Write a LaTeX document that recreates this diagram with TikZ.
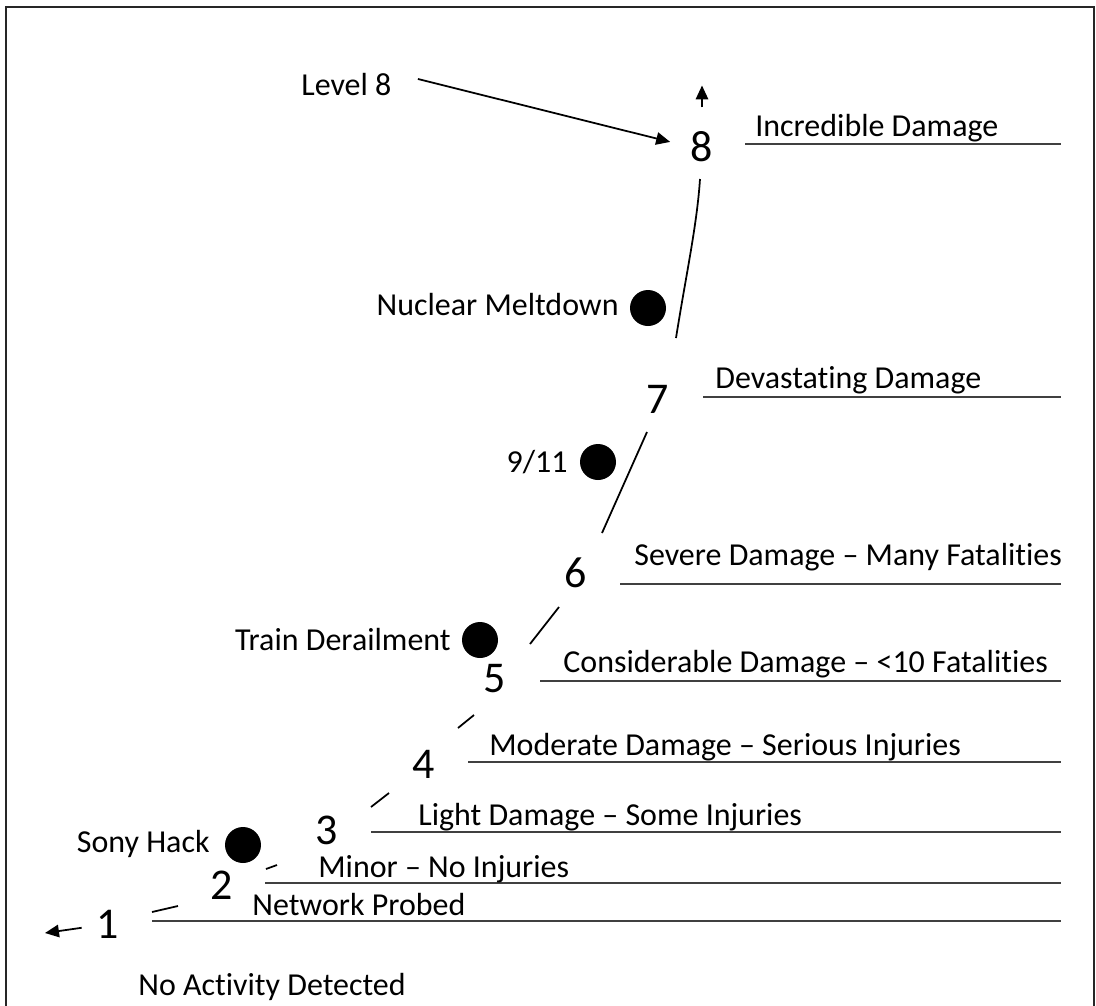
\documentclass[tikz,border=0pt]{standalone}
\usepackage{fontspec}
\setmainfont{Carlito}[Ligatures=NoCommon]
\usetikzlibrary{arrows.meta}

\begin{document}
\begin{tikzpicture}[
        x=0.02cm, y=-0.02cm,
        level/.style={inner sep=0pt, font=\fontsize{25}{30}\selectfont},
        tag/.style={inner sep=0pt, anchor=base west, font=\fontsize{18.2}{22}\selectfont},
        event/.style={inner sep=0pt, anchor=base east, font=\fontsize{18.2}{22}\selectfont},
        incident/.style={circle, fill=black, minimum size=0.72cm, inner sep=0pt},
        rule/.style={draw, black!75, line width=0.9pt},
        rise/.style={draw, line width=1pt},
        pointer/.style={draw, line width=1pt, -{Triangle[length=0.28cm, width=0.25cm]}}
    ]
        \useasboundingbox (0,0) rectangle (1096,1005);

        % Frame
        \draw[line width=1.3pt, black!85] (6,1010) -- (6,7) -- (1094,7) -- (1094,1010);

        % Levels
        \node[level] (l1) at (108,924) {1};
        \node[level] (l2) at (222,885) {2};
        \node[level] (l3) at (327,830) {3};
        \node[level] (l4) at (424,764) {4};
        \node[level] (l5) at (495,679) {5};
        \node[level] (l6) at (576,573) {6};
        \node[level] (l7) at (658,399) {7};
        \node[level] (l8) at (702,147) {8};

        % Damage scale
        \foreach \lx/\ly/\tx/\ty/\name/\txt in {
            152/921/252/915/probed/Network Probed,
            265/883/318/877/minor/Minor – No Injuries,
            371/832/418/825/light/Light Damage – Some Injuries,
            468/762/489/755/moderate/Moderate Damage – Serious Injuries,
            540/681/563/672/considerable/Considerable Damage – <10 Fatalities,
            620/584/634/565/severe/Severe Damage – Many Fatalities,
            703/397/715/388/devastating/Devastating Damage,
            745/144/755/136/incredible/Incredible Damage}{
            \draw[rule] (\lx,\ly) -- (1061,\ly);
            \node[tag] (\name) at (\tx,\ty) {\txt};
        }

        \node[tag] (none) at (138,995) {No Activity Detected};
        \node[tag] (lev8) at (301,95) {Level 8};

        % Incidents
        \node[incident] (sony) at (243,845) {};
        \node[incident] (train) at (480,640) {};
        \node[incident] (wtc) at (598,462) {};
        \node[incident] (nuke) at (648,308) {};

        \node[event] (sonyTxt) at (210,852) {Sony Hack};
        \node[event] (trainTxt) at (451,650) {Train Derailment};
        \node[event] (wtcTxt) at (568,472) {9/11};
        \node[event] (nukeTxt) at (619,315) {Nuclear Meltdown};

        % Broken rising curve
        \foreach \ax/\ay/\bx/\by in {152/912/178/906, 266/869/277/865,
            371/807/389/793, 458/728/474/715, 530/644/559/607, 602/533/647/432}
            \draw[rise] (\ax,\ay) -- (\bx,\by);
        \draw[rise] (676,338) .. controls (686,275) and (697,225) .. (700,179);

        % Arrows
        \coordinate (exit) at (45,933);
        \draw[pointer, shorten <=0.3cm] (l1) -- (exit);
        \draw[pointer] ([yshift=0.48cm]l8.north) -- ([yshift=0.92cm]l8.north);
        \draw[pointer, shorten <=0.54cm, shorten >=0.42cm] (lev8.north east) -- (l8.west);
    \end{tikzpicture}
\end{document}
